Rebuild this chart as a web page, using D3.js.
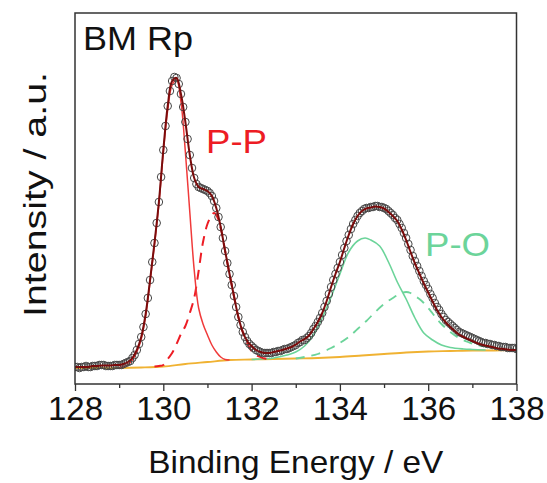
<!DOCTYPE html>
<html>
<head>
<meta charset="utf-8">
<script src="https://cdn.jsdelivr.net/npm/d3@7/dist/d3.min.js"></script>
<style>
  html, body { margin: 0; padding: 0; background: #fff; }
  svg { display: block; }
  text { font-family: "Liberation Sans", Arial, Helvetica, sans-serif; }
</style>
</head>
<body>
<div id="chart"></div>
<script>
// ---------------- DATA ----------------
const xTicks = [128, 130, 132, 134, 136, 138];
const xMinorTicks = [129, 131, 133, 135, 137];

// measured points (open circles), energies start at 128 eV, step 0.05 eV
const measStart = 128, measStep = 0.05;
const measured = [
  17,17,16,17,17,18,17,17,18,18,18,19,19,19,18,18,18,18,19,19,
  19,19,20,21,22,23,26,29,34,40,47,57,70,86,104,122,141,161,182,207,
  234,258,278,293,303,307,306,300,290,277,262,245,229,216,206,200,197,196,195,194,
  193,191,188,183,176,167,157,146,133,121,110,99,88,77,67,59,52,47,43,40,
  38,36,34,33,32,31,31,31,31,31,32,32,33,33,34,35,35,36,37,38,
  39,41,42,44,44,46,48,51,55,58,62,66,71,77,83,90,97,104,110,116,
  122,129,136,143,149,155,160,164,168,171,173,175,176,176,177,177,178,178,177,177,
  176,175,173,171,169,166,164,160,156,151,146,140,134,128,123,118,113,108,103,99,
  95,90,86,81,77,74,70,67,64,62,60,58,56,54,52,51,50,49,48,47,
  46,45,44,43,42,41,41,40,40,39,39,38,38,37,37,37,36,36,36,36,
  35
];

// envelope fit, energies start at 128 eV, step 0.1 eV
const fitStart = 128, fitStep = 0.1;
const envelope = [
  17,17,17,17,18,18,18.5,18.5,18.5,19,
  19,20,22,26,34,47,70,104,141,182,
  234,278,303,306,290,262,229,206,197,195,
  193,188,176,157,133,110,88,67,52,43,
  38,34,32,31,31,32,33,34,35.5,37,
  39.5,42.5,45,48.5,55,62,71,83,97,110,
  122,136,149,160,168,173,175.5,176.5,177.5,177,
  175.5,172,168,163,154.5,144,132,120.5,110.5,100.5,
  91.5,82.5,74,67,61.5,57,53,49.5,47,45,
  43,41,39.5,38.5,37.5,36.5,35.5,35,34.5,34,
  34
];

// Shirley-type background
const bgE = [128, 128.5, 129, 129.5, 130, 130.5, 131, 131.5, 132, 132.5, 133, 133.5, 134, 134.5, 135, 135.5, 136, 136.5, 137, 137.5, 138];
const bgI = [16, 16, 16, 16.5, 17.5, 20, 22, 24, 24.5, 25, 25.5, 26, 27, 28.5, 30, 31.5, 32.5, 33, 33.5, 33.5, 34];

// P-P main component (solid red)
const pp1E = [129.0, 129.1, 129.2, 129.3, 129.4, 129.5, 129.6, 129.7, 129.8, 129.9, 130.0, 130.1, 130.2, 130.3, 130.4, 130.5, 130.6, 130.7, 130.8, 130.9, 131.0, 131.1, 131.2, 131.3, 131.4, 131.5];
const pp1I = [16.5, 17.5, 19.5, 24, 32, 45, 68, 102, 139, 180, 231, 274, 299, 304, 282, 232, 172, 114, 76, 60, 49, 39, 32, 27, 24.5, 24];

// P-P second component (dashed red)
const pp2E = [129.8, 129.9, 130.0, 130.1, 130.2, 130.3, 130.4, 130.5, 130.6, 130.7, 130.8, 130.9, 131.0, 131.1, 131.15, 131.2, 131.3, 131.4, 131.5, 131.6, 131.7, 131.8, 131.9, 132.0, 132.1, 132.2, 132.3, 132.4];
const pp2I = [17.5, 18, 19, 25, 31, 40, 50, 58, 71, 86, 113, 142, 160, 169, 171, 169, 156, 133, 110, 88, 67, 52, 41, 33, 29, 27, 25.5, 25];

// P-O main component (solid green)
const po1E = [132.0, 132.5, 132.8, 133.0, 133.2, 133.4, 133.6, 133.8, 134.0, 134.2, 134.4, 134.57, 134.7, 134.9, 135.1, 135.3, 135.5, 135.7, 135.9, 136.1, 136.3, 136.5, 136.8, 137.0, 137.3];
const po1I = [24.5, 26, 29, 32, 38, 49, 66, 87, 110, 132, 143, 146, 144, 138, 122, 102, 85, 66, 51, 44, 39, 36.5, 35, 34.5, 34];

// P-O second component (dashed green)
const po2E = [133.0, 133.2, 133.5, 133.8, 134.0, 134.2, 134.4, 134.6, 134.8, 135.0, 135.2, 135.4, 135.5, 135.6, 135.7, 135.8, 135.9, 136.0, 136.1, 136.2, 136.3, 136.5, 136.7, 136.9, 137.1, 137.4, 137.7, 138.0];
const po2I = [25.5, 27, 30, 36, 41, 47, 55, 63, 72, 80, 86, 91, 92, 91, 88, 85, 81, 76, 70.5, 65, 60, 52, 46, 42, 39, 36.5, 35, 34];

const labels = { title: "BM Rp", xTitle: "Binding Energy / eV", yTitle: "Intensity / a.u.", pp: "P-P", po: "P-O" };

// ---------------- CHART ----------------
(function () {
const W = 547, H = 483;
const pLeft = 75, pTop = 13, pRight = 516.5, pBottom = 384;

const svg = d3.select("#chart").append("svg").attr("width", W).attr("height", H);

const x = d3.scaleLinear().domain([128, 138]).range([pLeft, pRight]);
const y = d3.scaleLinear().domain([0, 371]).range([pBottom, pTop]);

const colors = {
  red: "#ed1c24", redLine: "#f03a3a", green: "#6cd49a", env: "#7a0c0c",
  bg: "#f0b232", circle: "#474747", frame: "#333333"
};

svg.append("clipPath").attr("id", "clip").append("rect")
  .attr("x", pLeft).attr("y", pTop).attr("width", pRight - pLeft).attr("height", pBottom - pTop);

const plot = svg.append("g").attr("clip-path", "url(#clip)");

const line = d3.line().x(d => x(d[0])).y(d => y(d[1])).curve(d3.curveCatmullRom.alpha(0.5));
const zip = (e, v) => e.map((ev, i) => [ev, v[i]]);

// background
plot.append("path").datum(zip(bgE, bgI)).attr("d", line)
  .attr("fill", "none").attr("stroke", colors.bg).attr("stroke-width", 1.8);

// components
plot.append("path").datum(zip(po2E, po2I)).attr("d", line)
  .attr("fill", "none").attr("stroke", colors.green).attr("stroke-width", 1.8)
  .attr("stroke-dasharray", "9,7");
plot.append("path").datum(zip(po1E, po1I)).attr("d", line)
  .attr("fill", "none").attr("stroke", colors.green).attr("stroke-width", 1.6);
plot.append("path").datum(zip(pp2E, pp2I)).attr("d", line)
  .attr("fill", "none").attr("stroke", colors.red).attr("stroke-width", 2)
  .attr("stroke-dasharray", "10,7");
plot.append("path").datum(zip(pp1E, pp1I)).attr("d", line)
  .attr("fill", "none").attr("stroke", colors.redLine).attr("stroke-width", 1.5);

// measured circles
const measData = measured.map((v, i) => [measStart + i * measStep, v]);
plot.append("g").selectAll("circle").data(measData).join("circle")
  .attr("cx", d => x(d[0])).attr("cy", d => y(d[1])).attr("r", 3.8)
  .attr("fill", "none").attr("stroke", colors.circle).attr("stroke-width", 1);

// envelope
const envData = envelope.map((v, i) => [fitStart + i * fitStep, v]);
plot.append("path").datum(envData).attr("d", line)
  .attr("fill", "none").attr("stroke", colors.env).attr("stroke-width", 2);

// frame
svg.append("rect").attr("x", pLeft).attr("y", pTop)
  .attr("width", pRight - pLeft).attr("height", pBottom - pTop)
  .attr("fill", "none").attr("stroke", colors.frame).attr("stroke-width", 1.5);

// x axis
const xAxis = d3.axisBottom(x).tickValues(xTicks).tickSize(7).tickPadding(6).tickFormat(d3.format("d"));
const gx = svg.append("g").attr("transform", `translate(0,${pBottom})`).call(xAxis);
gx.select(".domain").remove();
gx.selectAll(".tick line").attr("stroke", colors.frame).attr("stroke-width", 1.3);
gx.selectAll(".tick text").attr("font-size", 33).attr("fill", "#111")
  .attr("font-family", "'Liberation Sans', Arial, sans-serif");

const xMinor = d3.axisBottom(x).tickValues(xMinorTicks).tickSize(4).tickFormat("");
const gxm = svg.append("g").attr("transform", `translate(0,${pBottom})`).call(xMinor);
gxm.select(".domain").remove();
gxm.selectAll(".tick line").attr("stroke", colors.frame).attr("stroke-width", 1.3);

// axis titles
svg.append("text").attr("x", (pLeft + pRight) / 2).attr("y", 473)
  .attr("text-anchor", "middle").attr("font-size", 32).attr("fill", "#111")
  .attr("textLength", 295).attr("lengthAdjust", "spacingAndGlyphs")
  .text(labels.xTitle);

svg.append("text").attr("transform", `translate(46,${(72 + 317) / 2}) rotate(-90)`)
  .attr("text-anchor", "middle").attr("font-size", 32).attr("fill", "#111")
  .attr("textLength", 245).attr("lengthAdjust", "spacingAndGlyphs")
  .text(labels.yTitle);

// annotations
svg.append("text").attr("x", 83).attr("y", 50).attr("font-size", 33).attr("fill", "#111")
  .attr("textLength", 110).attr("lengthAdjust", "spacingAndGlyphs").text(labels.title);
svg.append("text").attr("x", 206).attr("y", 153).attr("font-size", 33).attr("fill", colors.red)
  .attr("textLength", 61).attr("lengthAdjust", "spacingAndGlyphs").text(labels.pp);
svg.append("text").attr("x", 425).attr("y", 256).attr("font-size", 33).attr("fill", colors.green)
  .attr("textLength", 65).attr("lengthAdjust", "spacingAndGlyphs").text(labels.po);
})();
</script>
</body>
</html>
